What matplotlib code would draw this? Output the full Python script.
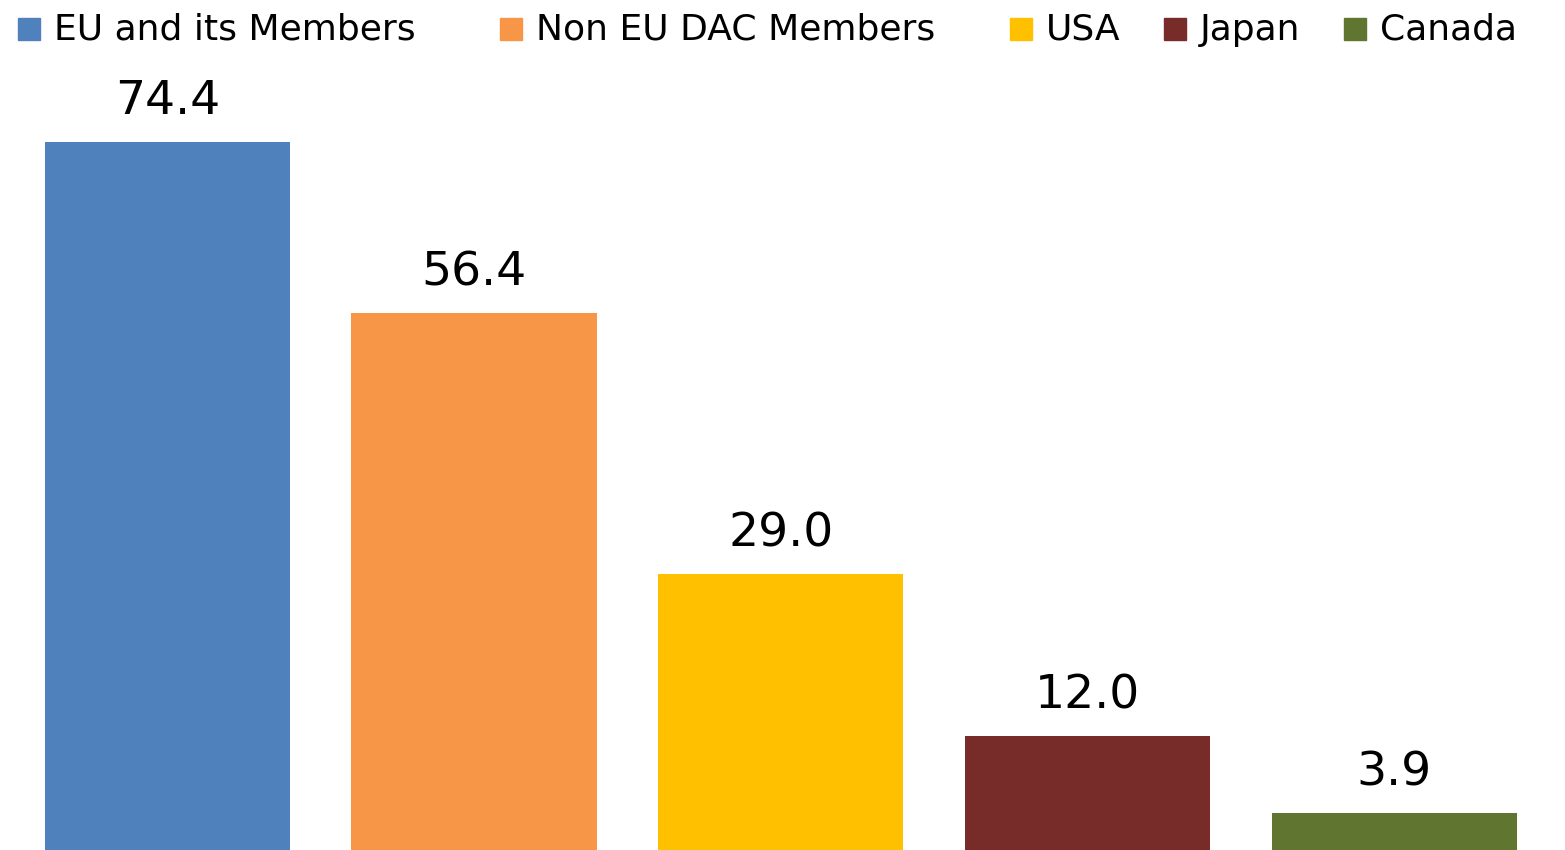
import numpy as np
import matplotlib.pyplot as plt
from matplotlib.patches import Rectangle

# data
donors = ["EU and its Members", "Non EU DAC Members", "USA", "Japan", "Canada"]
values = [74.4, 56.4, 29.0, 12.0, 3.9]
colors = ["#4F81BD", "#F79646", "#FFC000", "#772C2A", "#5F7530"]

W, H = 1565, 850
fig = plt.figure(figsize=(W / 100, H / 100), dpi=100)
ax = fig.add_axes([0, 0, 1, 1])

x = np.arange(len(values))
bars = ax.bar(x, values, width=0.8, color=colors)

# value labels above each bar
for b, v in zip(bars, values):
    ax.annotate("%.1f" % v, (b.get_x() + b.get_width() / 2, b.get_height()),
                xytext=(0, 20), textcoords="offset points",
                ha="center", va="baseline", fontsize=34, color="black")

ax.set_xlim(-0.546, 4.557)
ax.set_ylim(0, 89.3)
ax.axis("off")

# legend across the top, laid out by hand (pixel positions of each entry)
legend_x = [18, 500, 1010, 1164, 1344]
for lx, name, c in zip(legend_x, donors, colors):
    fig.patches.append(Rectangle((lx / W, 1 - 40 / H), 22 / W, 22 / H,
                                 transform=fig.transFigure, color=c))
    fig.text((lx + 36) / W, 1 - 40 / H, name, fontsize=26,
             ha="left", va="baseline", color="black")

plt.savefig("out.png", dpi=100)
